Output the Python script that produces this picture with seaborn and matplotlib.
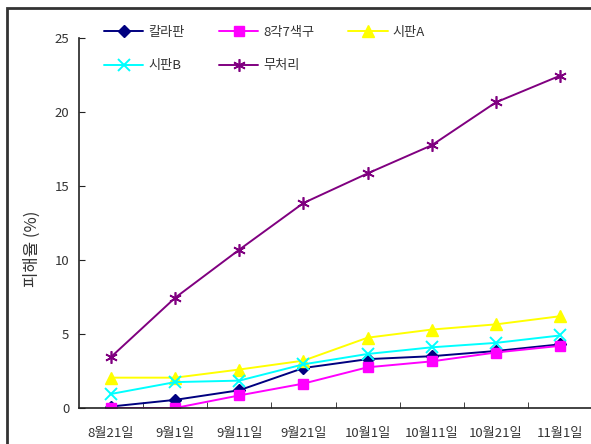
import matplotlib
matplotlib.use("Agg")
import matplotlib.pyplot as plt
import matplotlib.patches as patches
import seaborn as sns
import pandas as pd

dates = ["8월21일", "9월1일", "9월11일", "9월21일", "10월1일", "10월11일", "10월21일", "11월1일"]
kallapan = [0.1, 0.55, 1.2, 2.7, 3.3, 3.5, 3.85, 4.3]
octa7 = [0.0, 0.0, 0.85, 1.65, 2.75, 3.15, 3.75, 4.2]
sipan_a = [2.05, 2.05, 2.6, 3.2, 4.75, 5.3, 5.65, 6.2]
sipan_b = [0.95, 1.75, 1.85, 2.95, 3.65, 4.1, 4.4, 4.9]
untreated = [3.45, 7.45, 10.7, 13.85, 15.85, 17.75, 20.65, 22.45]

series = {
    "칼라판": kallapan,
    "8각7색구": octa7,
    "시판A": sipan_a,
    "시판B": sipan_b,
    "무처리": untreated,
}
style = {
    "칼라판": dict(color="#000080", marker="D", ms=6, mec="#000080"),
    "8각7색구": dict(color="#FF00FF", marker="s", ms=7.5, mec="#FF00FF"),
    "시판A": dict(color="#FFFF00", marker="^", ms=8.5, mec="#FFFF00"),
    "시판B": dict(color="#00FFFF", marker="x", ms=8.5, mew=1.4),
    "무처리": dict(color="#800080", marker=(6, 2, 0), ms=9, mew=1.2),
}

rows = []
for name, vals in series.items():
    for i, v in enumerate(vals):
        rows.append({"name": name, "pos": i, "value": v})
df = pd.DataFrame(rows)

sns.set_style("white")
plt.rcParams["font.family"] = ["Noto Sans CJK KR", "DejaVu Sans"]
txt = "#333333"

fig = plt.figure(figsize=(5.91, 4.44), dpi=100)
ax = fig.add_axes([79 / 591, 1 - 408 / 444, 513 / 591, 370 / 444])

for name in series:
    sub = df[df["name"] == name]
    s = style[name]
    sns.lineplot(data=sub, x="pos", y="value", ax=ax, color=s["color"],
                 marker=s["marker"], markersize=s["ms"],
                 markeredgecolor=s.get("mec", s["color"]),
                 markeredgewidth=s.get("mew", 1), linewidth=1.4,
                 label=name, legend=False)

ax.set_xlim(-0.5, 7.5)
ax.set_ylim(0, 25)
ax.set_yticks(range(0, 26, 5))
ax.set_xticks(range(len(dates)))
ax.set_xticklabels(dates)
ax.set_xticks([i + 0.5 for i in range(len(dates) - 1)], minor=True)
ax.tick_params(axis="x", which="major", length=0, pad=14, labelsize=9.5, labelcolor=txt)
ax.tick_params(axis="x", which="minor", length=4, direction="in", color="#222222", bottom=True)
ax.tick_params(axis="y", length=4, direction="in", pad=7, labelsize=9.5, labelcolor=txt,
               color="#222222", left=True)
ax.set_xlabel("")
ax.set_ylabel("피해율 (%)", fontsize=12, color=txt)
ax.yaxis.set_label_coords(-0.075, 0.43)
for side in ["top", "right"]:
    ax.spines[side].set_visible(False)
for side in ["left", "bottom"]:
    ax.spines[side].set_color("#222222")
    ax.spines[side].set_linewidth(1.2)

handles, labels = ax.get_legend_handles_labels()
order = [0, 3, 1, 4, 2]
leg = fig.legend([handles[i] for i in order], [labels[i] for i in order],
                 ncol=3, loc="upper left", bbox_to_anchor=(92 / 591, 1 - 14 / 444),
                 frameon=False, fontsize=9.5, handlelength=3.0, handletextpad=0.35,
                 columnspacing=2.6, labelspacing=1.55)
for t in leg.get_texts():
    t.set_color(txt)

fig.patches.append(patches.Rectangle((7 / 591, -0.05), 1.1, 1 - 8 / 444 + 0.05,
                                     transform=fig.transFigure, fill=False,
                                     edgecolor="#333333", linewidth=2))

fig.savefig("out.png", dpi=100)
